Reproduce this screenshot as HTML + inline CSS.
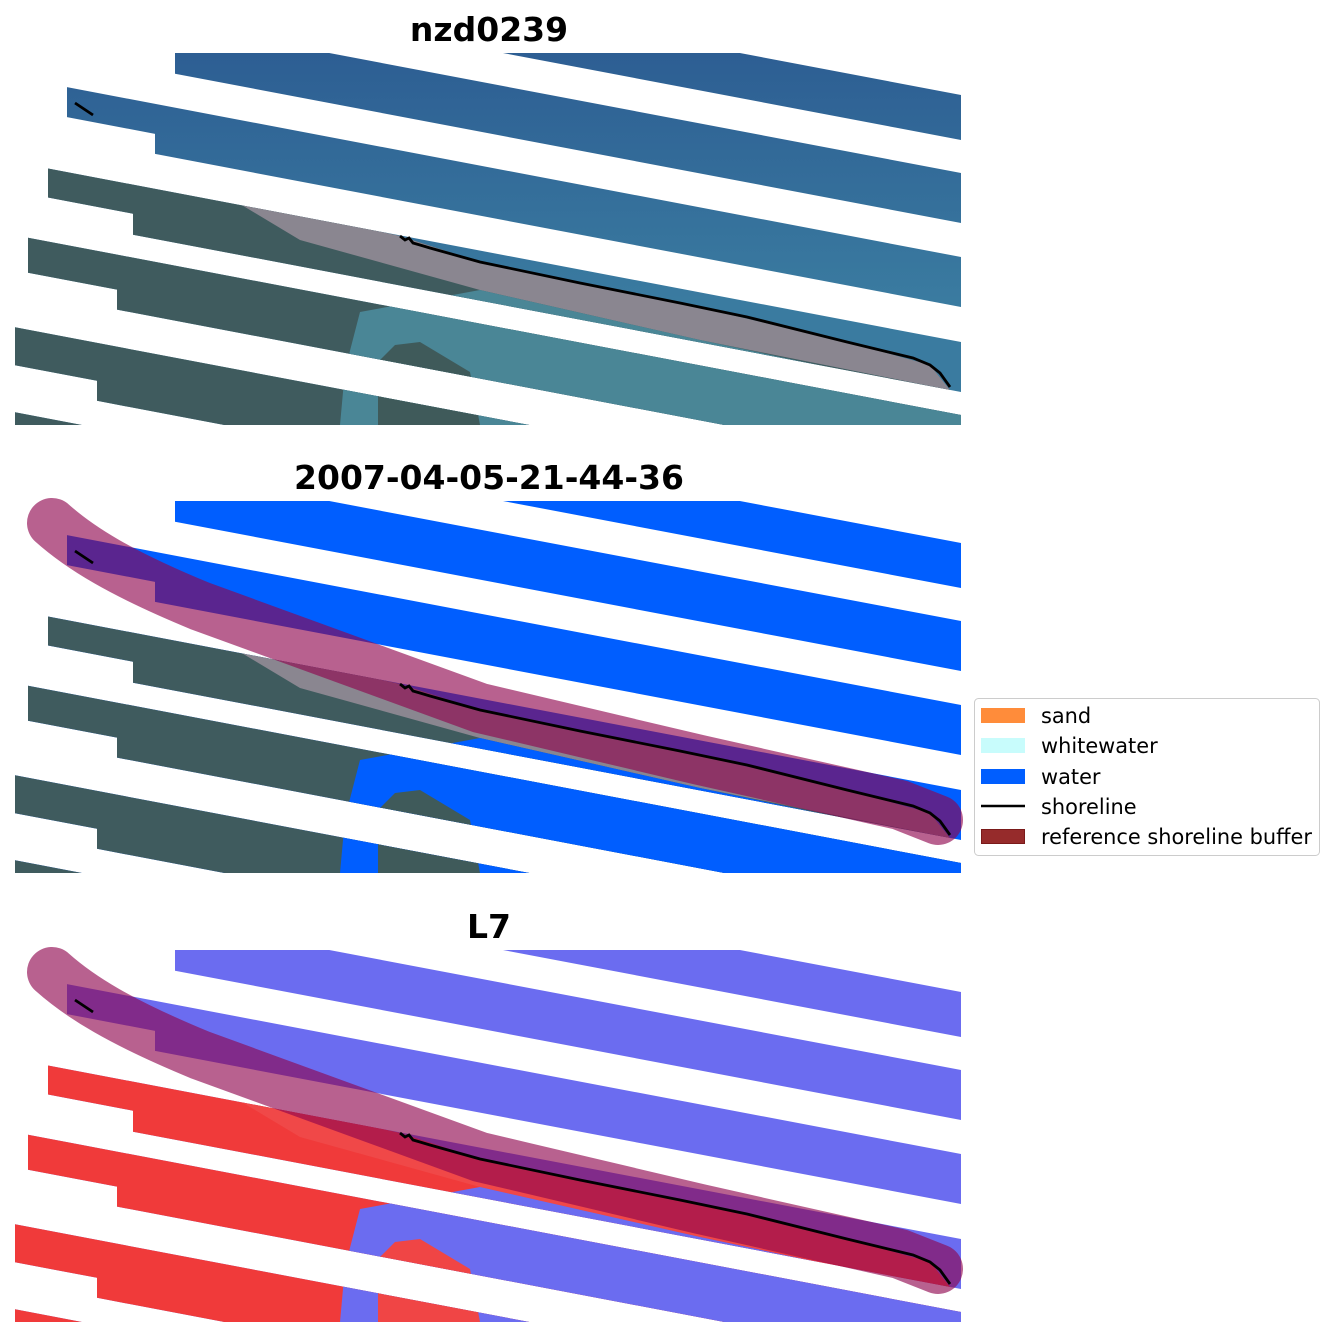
<!DOCTYPE html>
<html><head><meta charset="utf-8"><style>
html,body{margin:0;padding:0;background:#fff;}
svg{display:block;}
</style></head><body>
<svg width="1334" height="1337" viewBox="0 0 1334 1337" xmlns="http://www.w3.org/2000/svg">
<defs>
<clipPath id="rectc"><rect x="15" y="53" width="946" height="372"/></clipPath>
<clipPath id="stripes">
<polygon points="15,-84.7 961,95 961,140 15,-39.7"/>
<polygon points="175,23.7 961,173 961,223 175,73.7"/>
<polygon points="67,87.1 961,257 961,307 155,153.9 155,133.9 67,117.1"/>
<polygon points="48,168.5 961,342 961,392 133,234.7 133,213.7 48,197.5"/>
<polygon points="28,237.7 961,415 961,470 117,309.6 117,289.6 28,272.7"/>
<polygon points="15,327.3 961,507 961,565 97,400.8 97,380.8 15,365.3"/>
<polygon points="15,412.3 961,592 961,650 15,470"/>
</clipPath>
<linearGradient id="wg" x1="0" y1="53" x2="0" y2="300" gradientUnits="userSpaceOnUse">
<stop offset="0" stop-color="#2d5e93"/><stop offset="1" stop-color="#3a7ba0"/>
</linearGradient>
</defs>

<g font-family="DejaVu Sans, Liberation Sans, sans-serif" font-weight="bold" font-size="33" text-anchor="middle">
<text x="489" y="41">nzd0239</text>
<text x="489" y="489">2007-04-05-21-44-36</text>
<text x="489" y="938">L7</text>
</g>

<!-- Panel 1 -->
<g>
<g clip-path="url(#rectc)"><g clip-path="url(#stripes)">
<rect x="0" y="0" width="1000" height="500" fill="url(#wg)"/>
<polygon points="15,155 230,198 400,236 480,262 580,283 680,303 847,342 930,365 950,390 961,395 961,425 15,425" fill="#3f5b5e"/>
<polygon points="230,198 400,236 480,262 580,283 680,303 847,342 930,365 950,390 700,340 480,290 300,240" fill="#8a8690"/>
<polygon points="360,312 480,290 700,340 961,395 961,425 340,425 345,370" fill="#4a8696"/>
<polygon points="378,362 395,345 420,342 470,372 480,425 378,425" fill="#3f5a5a"/>
</g></g>
<polyline points="75,103 93,115" fill="none" stroke="#000" stroke-width="2.8"/>
<polyline points="400,236 405,240 409,238 413,243 420,245 430,248 480,262 580,283 680,303 747,317 847,342 913,358 930,365 940,373 950,387" fill="none" stroke="#000" stroke-width="2.8"/>
</g>

<!-- Panel 2 -->
<g transform="translate(0,448)">
<g clip-path="url(#rectc)"><g clip-path="url(#stripes)">
<rect x="0" y="0" width="1000" height="500" fill="#005eff"/>
<polygon points="15,155 230,198 400,236 480,262 580,283 680,303 847,342 930,365 950,390 961,395 961,425 15,425" fill="#3f5b5e"/>
<polygon points="230,198 400,236 480,262 580,283 680,303 847,342 930,365 950,390 700,340 480,290 300,240" fill="#8a8690"/>
<polygon points="360,312 480,290 700,340 961,395 961,425 340,425 345,370" fill="#005eff"/>
<polygon points="378,362 395,345 420,342 470,372 480,425 378,425" fill="#3f5a5a"/>
</g></g>
<path d="M52,75 C80,100 120,125 200,158 L480,260 L700,312 L900,357 L938,372" fill="none" stroke="rgb(143,5,78)" stroke-opacity="0.63" stroke-width="50" stroke-linecap="round" stroke-linejoin="round"/>
<polyline points="75,103 93,115" fill="none" stroke="#000" stroke-width="2.8"/>
<polyline points="400,236 405,240 409,238 413,243 420,245 430,248 480,262 580,283 680,303 747,317 847,342 913,358 930,365 940,373 950,387" fill="none" stroke="#000" stroke-width="2.8"/>
</g>

<!-- Panel 3 -->
<g transform="translate(0,897)">
<g clip-path="url(#rectc)"><g clip-path="url(#stripes)">
<rect x="0" y="0" width="1000" height="500" fill="#6b6cf0"/>
<polygon points="15,155 230,198 400,236 480,262 580,283 680,303 847,342 930,365 950,390 961,395 961,425 15,425" fill="#f03a3a"/>
<polygon points="230,198 400,236 480,262 580,283 680,303 847,342 930,365 950,390 700,340 480,290 300,240" fill="#f04848"/>
<polygon points="360,312 480,290 700,340 961,395 961,425 340,425 345,370" fill="#6b6cf0"/>
<polygon points="378,362 395,345 420,342 470,372 480,425 378,425" fill="#f04545"/>
</g></g>
<path d="M52,75 C80,100 120,125 200,158 L480,260 L700,312 L900,357 L938,372" fill="none" stroke="rgb(143,5,78)" stroke-opacity="0.63" stroke-width="50" stroke-linecap="round" stroke-linejoin="round"/>
<polyline points="75,103 93,115" fill="none" stroke="#000" stroke-width="2.8"/>
<polyline points="400,236 405,240 409,238 413,243 420,245 430,248 480,262 580,283 680,303 747,317 847,342 913,358 930,365 940,373 950,387" fill="none" stroke="#000" stroke-width="2.8"/>
</g>

<!-- Legend -->
<rect x="974.5" y="698.5" width="345" height="157" rx="4" fill="#fff" stroke="#cccccc" stroke-width="1"/>
<rect x="981" y="708" width="44" height="15" fill="#ff8c3a"/>
<rect x="981" y="738" width="44" height="15" fill="#c8fcfc"/>
<rect x="981" y="769" width="44" height="15" fill="#005eff"/>
<line x1="981" y1="806" x2="1025" y2="806" stroke="#000" stroke-width="2.5"/>
<rect x="981.5" y="829.5" width="43" height="14" fill="#962b2b" stroke="#7a1a1a" stroke-width="1"/>
<g font-family="DejaVu Sans, Liberation Sans, sans-serif" font-size="20.9" fill="#000">
<text x="1041" y="723">sand</text>
<text x="1041" y="753">whitewater</text>
<text x="1041" y="784">water</text>
<text x="1041" y="814">shoreline</text>
<text x="1041" y="844">reference shoreline buffer</text>
</g>
</svg>
</body></html>
